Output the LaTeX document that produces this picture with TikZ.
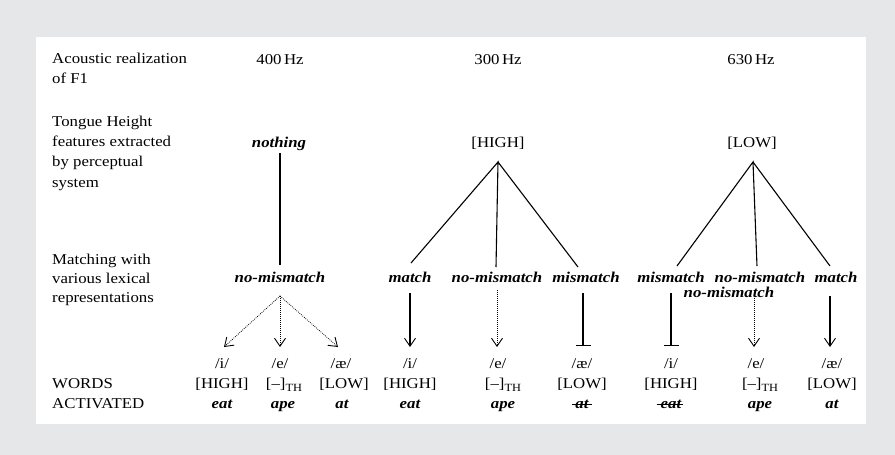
\documentclass[tikz,border=0pt]{standalone}
\usepackage{fontspec}
\setmainfont{Liberation Serif}[FakeStretch=1.12]
\usetikzlibrary{arrows.meta}
\definecolor{bggray}{RGB}{230,231,232}
\newcommand{\subTH}{\raisebox{-3.5pt}{\fontsize{11}{11}\selectfont TH}}
\begin{document}
\begin{tikzpicture}[x=1pt,y=-1pt,
  txt/.style={font=\fontsize{15}{19.5}\selectfont, inner sep=0pt, anchor=base},
  lbl/.style={txt, anchor=base west, align=left},
  bi/.style={txt, font=\fontsize{15}{19.5}\selectfont\bfseries\itshape},
  ln/.style={line width=1.1pt},
  dotln/.style={line width=0.8pt, dash pattern=on 0.8pt off 1.2pt},
  arr/.style={-{Straight Barb[length=8pt,width=11pt,line width=0.9pt]}},
  tbar/.style={-{Bar[width=15pt,line width=1.2pt]}},
  strike/.style={line width=1pt}]
\fill[bggray] (0,0) rectangle (895,455);
\fill[white] (36,37) rectangle (866,424);
\useasboundingbox (0,0) rectangle (895,455);

% left labels (anchored at the baseline of their last line)
\node[lbl] (l1) at (52,83) {Acoustic realization\\of F1};
\node[lbl, font=\fontsize{15}{20.3}\selectfont] (l2) at (52,187) {Tongue Height\\features extracted\\by perceptual\\system};
\node[lbl, font=\fontsize{15}{19}\selectfont] (l3) at (52,302) {Matching with\\various lexical\\representations};
\node[lbl, font=\fontsize{15}{20}\selectfont] (l4) at (52,408) {WORDS\\ACTIVATED};

% frequencies
\node[txt] (hz1) at (280,64) {400\,Hz};
\node[txt] (hz2) at (498,64) {300\,Hz};
\node[txt] (hz3) at (751,64) {630\,Hz};

% features
\node[bi] (f1) at (279,147) {nothing};
\node[txt] (f2) at (498,147) {[HIGH]};
\node[txt] (f3) at (752,147) {[LOW]};
\coordinate (a1) at (280,153);
\coordinate (a2) at (498,162);
\coordinate (a3) at (753,162);

% matching labels
\node[bi] (m1) at (280,282) {no-mismatch};
\node[bi] (m2a) at (410,282) {match};
\node[bi] (m2b) at (497,282) {no-mismatch};
\node[bi] (m2c) at (586,282) {mismatch};
\node[bi] (m3a) at (671,282) {mismatch};
\node[bi] (m3b) at (760,282) {no-mismatch};
\node[bi] (m3c) at (836,282) {match};
\node[bi] (m3x) at (729,297) {no-mismatch};

% line ends above matching labels
\coordinate (t1) at (280,265);
\coordinate (t2a) at (411,263);
\coordinate (t2b) at (496,267);
\coordinate (t2c) at (578,267);
\coordinate (t3a) at (677,266);
\coordinate (t3b) at (757,266);
\coordinate (t3c) at (830,266);

\draw[ln] (a1) -- (t1);
\draw[ln] (t2a) -- (a2) -- (t2b);
\draw[ln] (a2) -- (t2c);
\draw[ln] (t3a) -- (a3) -- (t3b);
\draw[ln] (a3) -- (t3c);

% arrow starts below matching labels
\coordinate (s1) at (280,296);
\coordinate (s2a) at (410,293);
\coordinate (s2b) at (497,290);
\coordinate (s2c) at (583,293);
\coordinate (s3a) at (671,293);
\coordinate (s3b) at (754,290);
\coordinate (s3c) at (830,296);

% arrow ends
\coordinate (e11) at (224,347);
\coordinate (e12) at (280,347);
\coordinate (e13) at (338,347);
\coordinate (e21) at (410,347);
\coordinate (e22) at (497,347);
\coordinate (e23) at (583,346);
\coordinate (e31) at (671,346);
\coordinate (e32) at (754,347);
\coordinate (e33) at (830,347);

\draw[dotln, arr] (s1) -- (e11);
\draw[dotln, arr] (s1) -- (e12);
\draw[dotln, arr] (s1) -- (e13);
\draw[ln, arr] (s2a) -- (e21);
\draw[dotln, arr] (s2b) -- (e22);
\draw[ln, tbar] (s2c) -- (e23);
\draw[ln, tbar] (s3a) -- (e31);
\draw[dotln, arr] (s3b) -- (e32);
\draw[ln, arr] (s3c) -- (e33);

% phonemes
\node[txt] (p11) at (222,368) {/i/};
\node[txt] (p12) at (280,368) {/e/};
\node[txt] (p13) at (341,368) {/æ/};
\node[txt] (p21) at (410,368) {/i/};
\node[txt] (p22) at (498,368) {/e/};
\node[txt] (p23) at (582,368) {/æ/};
\node[txt] (p31) at (671,368) {/i/};
\node[txt] (p32) at (756,368) {/e/};
\node[txt] (p33) at (832,368) {/æ/};

% feature specifications
\node[txt] (g11) at (222,388) {[HIGH]};
\node[txt] (g12) at (284,388) {[–]\subTH};
\node[txt] (g13) at (344,388) {[LOW]};
\node[txt] (g21) at (410,388) {[HIGH]};
\node[txt] (g22) at (503,388) {[–]\subTH};
\node[txt] (g23) at (582,388) {[LOW]};
\node[txt] (g31) at (671,388) {[HIGH]};
\node[txt] (g32) at (760,388) {[–]\subTH};
\node[txt] (g33) at (832,388) {[LOW]};

% words
\node[bi] (w11) at (222,408) {eat};
\node[bi] (w12) at (283,408) {ape};
\node[bi] (w13) at (342,408) {at};
\node[bi] (w21) at (410,408) {eat};
\node[bi] (w22) at (503,408) {ape};
\node[bi] (w23) at (582,408) {at};
\node[bi] (w31) at (671,408) {eat};
\node[bi] (w32) at (760,408) {ape};
\node[bi] (w33) at (832,408) {at};

\draw[strike] ([xshift=-3pt,yshift=4pt]w23.base west) -- ([xshift=3pt,yshift=4pt]w23.base east);
\draw[strike] ([xshift=-4pt,yshift=4pt]w31.base west) -- ([xshift=2pt,yshift=4pt]w31.base east);
\end{tikzpicture}
\end{document}
